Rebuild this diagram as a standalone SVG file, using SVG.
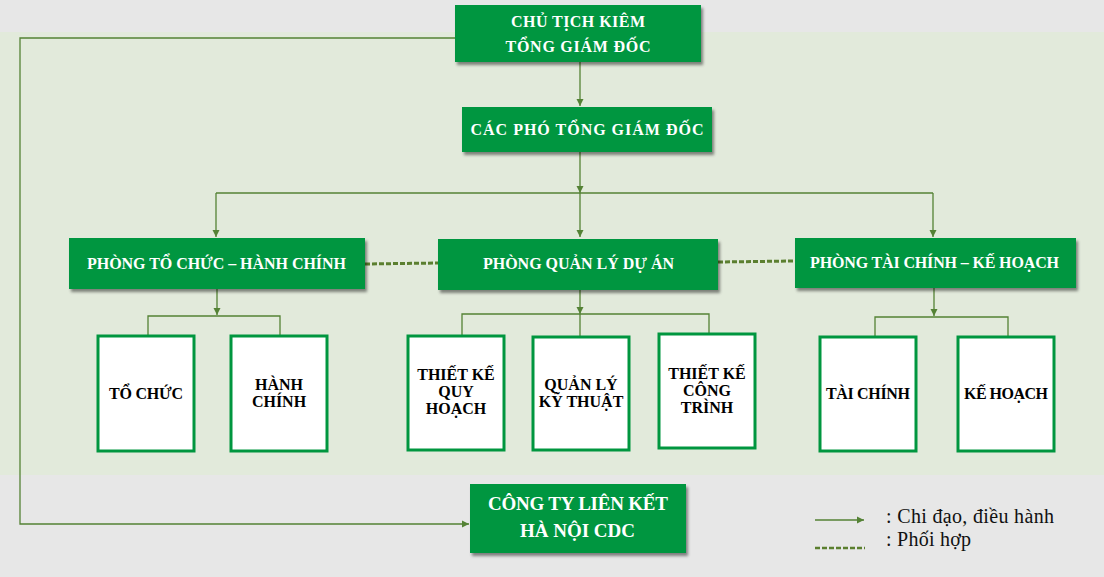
<svg xmlns="http://www.w3.org/2000/svg" width="1104" height="577" viewBox="0 0 1104 577">
<defs>
<style>
.gbox{fill:#00963f;filter:url(#sh);}
.wbox{fill:#ffffff;stroke:#00963f;stroke-width:3;}
.wt{font-family:"Liberation Serif","Times New Roman",serif;font-weight:bold;font-size:16px;fill:#ffffff;text-anchor:middle;}
.bt{font-family:"Liberation Serif","Times New Roman",serif;font-weight:bold;font-size:16px;fill:#000000;text-anchor:middle;}
.lt{font-family:"Liberation Serif","Times New Roman",serif;font-size:20px;fill:#111111;}
.ln{fill:none;stroke:#548235;stroke-width:1.3;}
.arr{fill:none;stroke:#548235;stroke-width:1.3;marker-end:url(#ah);}
.dash{fill:none;stroke:#5b7f2f;stroke-width:3;stroke-dasharray:5 2;}
</style>
<filter id="sh" x="-10%" y="-20%" width="130%" height="150%">
<feDropShadow dx="2" dy="3" stdDeviation="1.6" flood-color="#000" flood-opacity="0.45"/>
</filter>
<marker id="ah" markerWidth="8" markerHeight="8" refX="7" refY="4" orient="auto" markerUnits="userSpaceOnUse">
<path d="M0,0.5 L7,4 L0,7.5 Z" fill="#548235"/>
</marker>
</defs>
<rect x="0" y="0" width="1104" height="577" fill="#e7e7e7"/>
<rect x="0" y="32" width="1104" height="443" fill="#e2eadb"/>

<g id="connectors">
<polyline class="arr" points="455,38 20,38 20,524 469,524"/>
<line class="arr" x1="580" y1="62" x2="580" y2="106"/>
<line class="ln" x1="580" y1="152" x2="580" y2="193"/>
<path d="M576.5,186 L580,193 L583.5,186 Z" fill="#548235"/>
<line class="ln" x1="216" y1="193" x2="933" y2="193"/>
<line class="arr" x1="216" y1="193" x2="216" y2="237"/>
<line class="arr" x1="580" y1="193" x2="580" y2="237"/>
<line class="arr" x1="933" y1="193" x2="933" y2="237"/>
<line class="dash" x1="365" y1="264" x2="438" y2="263"/>
<line class="dash" x1="718" y1="262" x2="795" y2="261"/>
<line class="arr" x1="217" y1="289" x2="217" y2="315"/>
<polyline class="ln" points="148,336 148,316 280,316 280,336"/>
<line class="arr" x1="580" y1="290" x2="580" y2="314"/>
<polyline class="ln" points="462,336 462,314 709,314 709,334"/>
<line class="ln" x1="580" y1="314" x2="580" y2="336"/>
<line class="arr" x1="934" y1="288" x2="934" y2="316"/>
<polyline class="ln" points="875,337 875,317 1008,317 1008,337"/>
</g>

<g id="n-chutich">
<rect class="gbox" x="455" y="5" width="246" height="57"/>
<text class="wt" x="578" y="27" textLength="134">CHỦ TỊCH KIÊM</text>
<text class="wt" x="578" y="52" textLength="145">TỔNG GIÁM ĐỐC</text>
</g>
<g id="n-pho">
<rect class="gbox" x="462" y="107" width="250" height="45"/>
<text class="wt" x="587" y="135" textLength="233">CÁC PHÓ TỔNG GIÁM ĐỐC</text>
</g>
<g id="n-tochuc-hanhchinh">
<rect class="gbox" x="69" y="238" width="296" height="51"/>
<text class="wt" x="216.5" y="269" textLength="259">PHÒNG TỔ CHỨC – HÀNH CHÍNH</text>
</g>
<g id="n-qlda">
<rect class="gbox" x="438" y="239" width="280" height="51"/>
<text class="wt" x="578.5" y="269" textLength="191">PHÒNG QUẢN LÝ DỰ ÁN</text>
</g>
<g id="n-taichinh-kehoach">
<rect class="gbox" x="795" y="238" width="281" height="50"/>
<text class="wt" x="934.5" y="268" textLength="249">PHÒNG TÀI CHÍNH – KẾ HOẠCH</text>
</g>

<g id="n-tochuc">
<rect class="wbox" x="98" y="336" width="96" height="115"/>
<text class="bt" x="146" y="399" textLength="74">TỔ CHỨC</text>
</g>
<g id="n-hanhchinh">
<rect class="wbox" x="231" y="336" width="96" height="115"/>
<text class="bt" x="279" y="390">HÀNH</text>
<text class="bt" x="279" y="407">CHÍNH</text>
</g>
<g id="n-tkqh">
<rect class="wbox" x="408" y="336" width="96" height="114"/>
<text class="bt" x="456" y="380">THIẾT KẾ</text>
<text class="bt" x="456" y="397">QUY</text>
<text class="bt" x="456" y="414">HOẠCH</text>
</g>
<g id="n-qlkt">
<rect class="wbox" x="533" y="337" width="96" height="113"/>
<text class="bt" x="581" y="390">QUẢN LÝ</text>
<text class="bt" x="581" y="407">KỸ THUẬT</text>
</g>
<g id="n-tkct">
<rect class="wbox" x="659" y="334" width="96" height="114"/>
<text class="bt" x="707" y="379">THIẾT KẾ</text>
<text class="bt" x="707" y="396">CÔNG</text>
<text class="bt" x="707" y="413">TRÌNH</text>
</g>
<g id="n-taichinh">
<rect class="wbox" x="820" y="337" width="96" height="114"/>
<text class="bt" x="868" y="399" textLength="84">TÀI CHÍNH</text>
</g>
<g id="n-kehoach">
<rect class="wbox" x="958" y="337" width="96" height="114"/>
<text class="bt" x="1006" y="399" textLength="84">KẾ HOẠCH</text>
</g>

<g id="n-congty">
<rect class="gbox" x="470" y="484" width="216" height="69"/>
<text class="wt" x="578" y="510" style="font-size:19px" textLength="180">CÔNG TY LIÊN KẾT</text>
<text class="wt" x="577.5" y="537" style="font-size:19px" textLength="115">HÀ NỘI CDC</text>
</g>

<g id="legend">
<line class="arr" x1="815" y1="520" x2="864" y2="520"/>
<text class="lt" x="886" y="523" textLength="168">: Chi đạo, điều hành</text>
<line class="dash" x1="815" y1="548" x2="865" y2="548" style="stroke-width:2.5"/>
<text class="lt" x="886" y="546" textLength="85">: Phối hợp</text>
</g>
</svg>
